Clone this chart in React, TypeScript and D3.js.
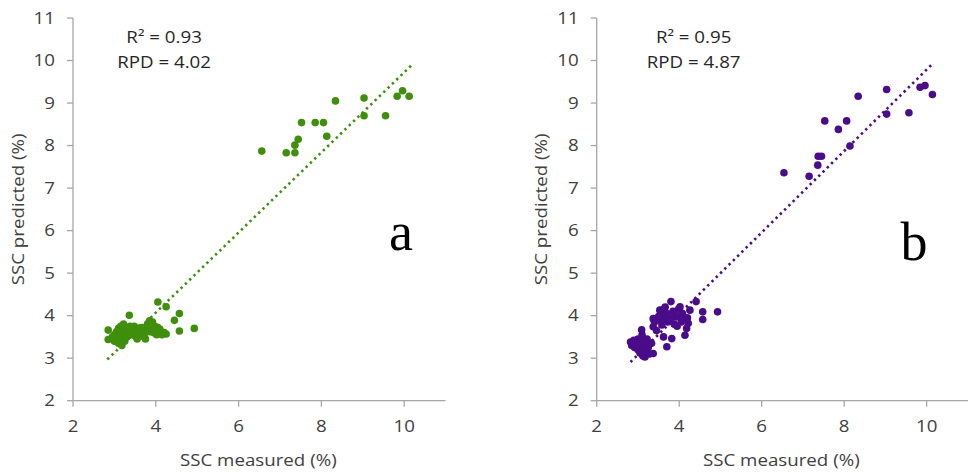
import React from "react";
import * as d3 from "d3";

type P = [number, number];

const xTicks = [2, 4, 6, 8, 10];
const yTicks = [2, 3, 4, 5, 6, 7, 8, 9, 10, 11];

const seriesA: P[] = [
  [2.85, 3.66], [2.85, 3.44], [2.95, 3.5], [3.0, 3.55], [3.0, 3.4], [3.05, 3.62], [3.05, 3.48],
  [3.1, 3.7], [3.1, 3.35], [3.12, 3.58], [3.15, 3.75], [3.15, 3.45], [3.18, 3.3], [3.2, 3.62],
  [3.2, 3.52], [3.22, 3.8], [3.25, 3.68], [3.25, 3.4], [3.28, 3.56], [3.3, 3.72], [3.3, 3.5],
  [3.35, 3.62], [3.36, 4.01], [3.38, 3.75], [3.4, 3.55], [3.42, 3.68], [3.45, 3.6], [3.48, 3.75],
  [3.5, 3.52], [3.52, 3.65], [3.55, 3.45], [3.58, 3.7], [3.6, 3.6], [3.62, 3.55], [3.65, 3.72],
  [3.7, 3.62], [3.72, 3.5], [3.75, 3.45], [3.78, 3.68], [3.8, 3.8], [3.82, 3.72], [3.85, 3.88],
  [3.85, 3.62], [3.88, 3.78], [3.9, 3.7], [3.92, 3.85], [3.95, 3.6], [3.98, 3.75], [4.0, 3.68],
  [4.02, 3.55], [4.05, 3.72], [4.08, 3.62], [4.1, 3.68], [4.15, 3.55], [4.2, 3.6], [4.25, 3.57],
  [4.05, 4.32], [4.25, 4.21], [4.45, 3.89], [4.57, 4.05], [4.57, 3.64], [4.93, 3.7],
  [6.56, 7.87], [7.15, 7.83], [7.36, 7.83], [7.36, 8.01], [7.44, 8.15], [7.52, 8.54], [7.85, 8.54],
  [8.05, 8.54], [8.13, 8.22], [8.34, 9.05], [9.03, 9.12], [9.03, 8.7], [9.55, 8.7], [9.83, 9.16],
  [9.96, 9.29], [10.12, 9.16],
];

const seriesB: P[] = [
  [2.82, 3.38], [2.85, 3.3], [2.9, 3.42], [2.92, 3.25], [2.95, 3.35], [3.0, 3.45], [3.0, 3.2],
  [3.02, 3.32], [3.05, 3.12], [3.08, 3.4], [3.09, 3.67], [3.1, 3.28], [3.12, 3.05], [3.15, 3.22],
  [3.15, 3.38], [3.17, 3.03], [3.2, 3.3], [3.2, 3.15], [3.22, 3.45], [3.25, 3.25], [3.28, 3.1],
  [3.3, 3.35], [3.33, 3.35], [3.37, 3.11], [3.1, 3.55],
  [3.37, 3.74], [3.37, 3.93], [3.4, 3.85], [3.45, 3.65], [3.5, 3.98], [3.53, 4.13], [3.53, 3.89],
  [3.55, 4.05], [3.58, 3.78], [3.6, 4.0], [3.62, 3.5], [3.62, 4.15], [3.66, 4.2], [3.65, 3.9],
  [3.7, 3.27], [3.7, 4.05], [3.72, 3.85], [3.75, 3.95], [3.78, 3.89], [3.8, 4.33], [3.82, 3.46],
  [3.85, 4.1], [3.88, 3.8], [3.9, 4.0], [3.94, 3.97], [3.95, 3.75], [3.98, 4.15], [4.02, 4.21],
  [4.05, 3.85], [4.08, 4.05], [4.1, 3.92], [4.14, 3.54], [4.18, 3.7], [4.22, 3.82], [4.26, 4.13],
  [4.2, 3.95], [4.41, 4.33], [4.57, 4.09], [4.57, 3.91], [4.93, 4.09],
  [6.54, 7.36], [7.15, 7.28], [7.36, 7.54], [7.37, 7.75], [7.45, 7.75], [7.53, 8.58], [7.86, 8.38],
  [8.06, 8.58], [8.14, 7.99], [8.34, 9.16], [9.03, 9.32], [9.03, 8.74], [9.57, 8.77], [9.84, 9.37],
  [9.96, 9.41], [10.14, 9.2],
];

const trendA: P[] = [[2.83, 2.97], [10.21, 9.92]];
const trendB: P[] = [[2.82, 2.91], [10.15, 9.93]];

const statsA = ["R² = 0.93", "RPD = 4.02"];
const statsB = ["R² = 0.95", "RPD = 4.87"];

const FONT = "'Open Sans', 'Noto Sans', sans-serif";
const SX = 1.17;

function T(props: { x: number; y: number; rot?: number; anchor: string; size?: number; fill?: string; children: React.ReactNode }) {
  const { x, y, rot = 0, anchor, size = 16, fill = "#404040", children } = props;
  return (
    <text
      transform={`translate(${x},${y}) rotate(${rot}) scale(${SX},1)`}
      dy="0.35em"
      textAnchor={anchor}
      fontSize={size}
      fill={fill}
      fontFamily={FONT}
    >
      {children}
    </text>
  );
}

function Panel(props: {
  x0: number; x1: number; data: P[]; trend: P[]; color: string; stats: string[]; statsX: number;
  letter: string; letterX: number; letterY: number; letterSize: number; titleX: number;
}) {
  const { x0, x1, data, trend, color, stats, statsX, letter, letterX, letterY, letterSize, titleX } = props;
  const x = d3.scaleLinear().domain([2, 11]).range([x0, x1]);
  const y = d3.scaleLinear().domain([2, 11]).range([400.7, 18]);
  const axisColor = "#a6a6a6";
  const line = d3.line<P>().x((d) => x(d[0])).y((d) => y(d[1]));
  return (
    <g>
      <line x1={x0} x2={x0} y1={y(11)} y2={y(2)} stroke={axisColor} strokeWidth={1.3} />
      <line x1={x0} x2={x(11)} y1={y(2)} y2={y(2)} stroke={axisColor} strokeWidth={1.3} />
      {yTicks.map((t) => (
        <g key={"y" + t}>
          <line x1={x0 - 6} x2={x0} y1={y(t)} y2={y(t)} stroke={axisColor} strokeWidth={1.3} />
          <T x={x0 - 18} y={y(t)} anchor="end">{t}</T>
        </g>
      ))}
      {xTicks.map((t) => (
        <g key={"x" + t}>
          <line x1={x(t)} x2={x(t)} y1={y(2)} y2={y(2) + 6} stroke={axisColor} strokeWidth={1.3} />
          <T x={x(t)} y={426} anchor="middle">{t}</T>
        </g>
      ))}
      <T x={(x0 + x(11)) / 2 - 1} y={460} anchor="middle">SSC measured (%)</T>
      <T x={titleX} y={(y(2) + y(11)) / 2} rot={-90} anchor="middle">SSC predicted (%)</T>
      <path d={line(trend) || ""} stroke={color} strokeWidth={2.6} strokeDasharray="2.4,3.6" fill="none" />
      {data.map((d, i) => (
        <circle key={i} cx={x(d[0])} cy={y(d[1])} r={3.8} fill={color} />
      ))}
      {stats.map((s, i) => (
        <T key={s} x={x(statsX)} y={37 + i * 25} anchor="middle" fill="#262626">{s}</T>
      ))}
      <text x={letterX} y={letterY} textAnchor="middle" fontSize={letterSize} fill="#000" fontFamily="'Liberation Serif', 'DejaVu Serif', serif">{letter}</text>
    </g>
  );
}

export default function App() {
  return (
    <svg width={975} height={473} style={{ position: "absolute", left: 0, top: 0, background: "#fff" }}>
      <rect width={975} height={473} fill="#fff" />
      <Panel x0={73} x1={445.6} data={seriesA} trend={trendA} color="#3f8f0c" stats={statsA} statsX={4.2}
        letter="a" letterX={401} letterY={250} letterSize={54} titleX={18} />
      <Panel x0={596.7} x1={967.9} data={seriesB} trend={trendB} color="#4a0c8a" stats={statsB} statsX={4.35}
        letter="b" letterX={914} letterY={260} letterSize={54} titleX={541} />
    </svg>
  );
}
